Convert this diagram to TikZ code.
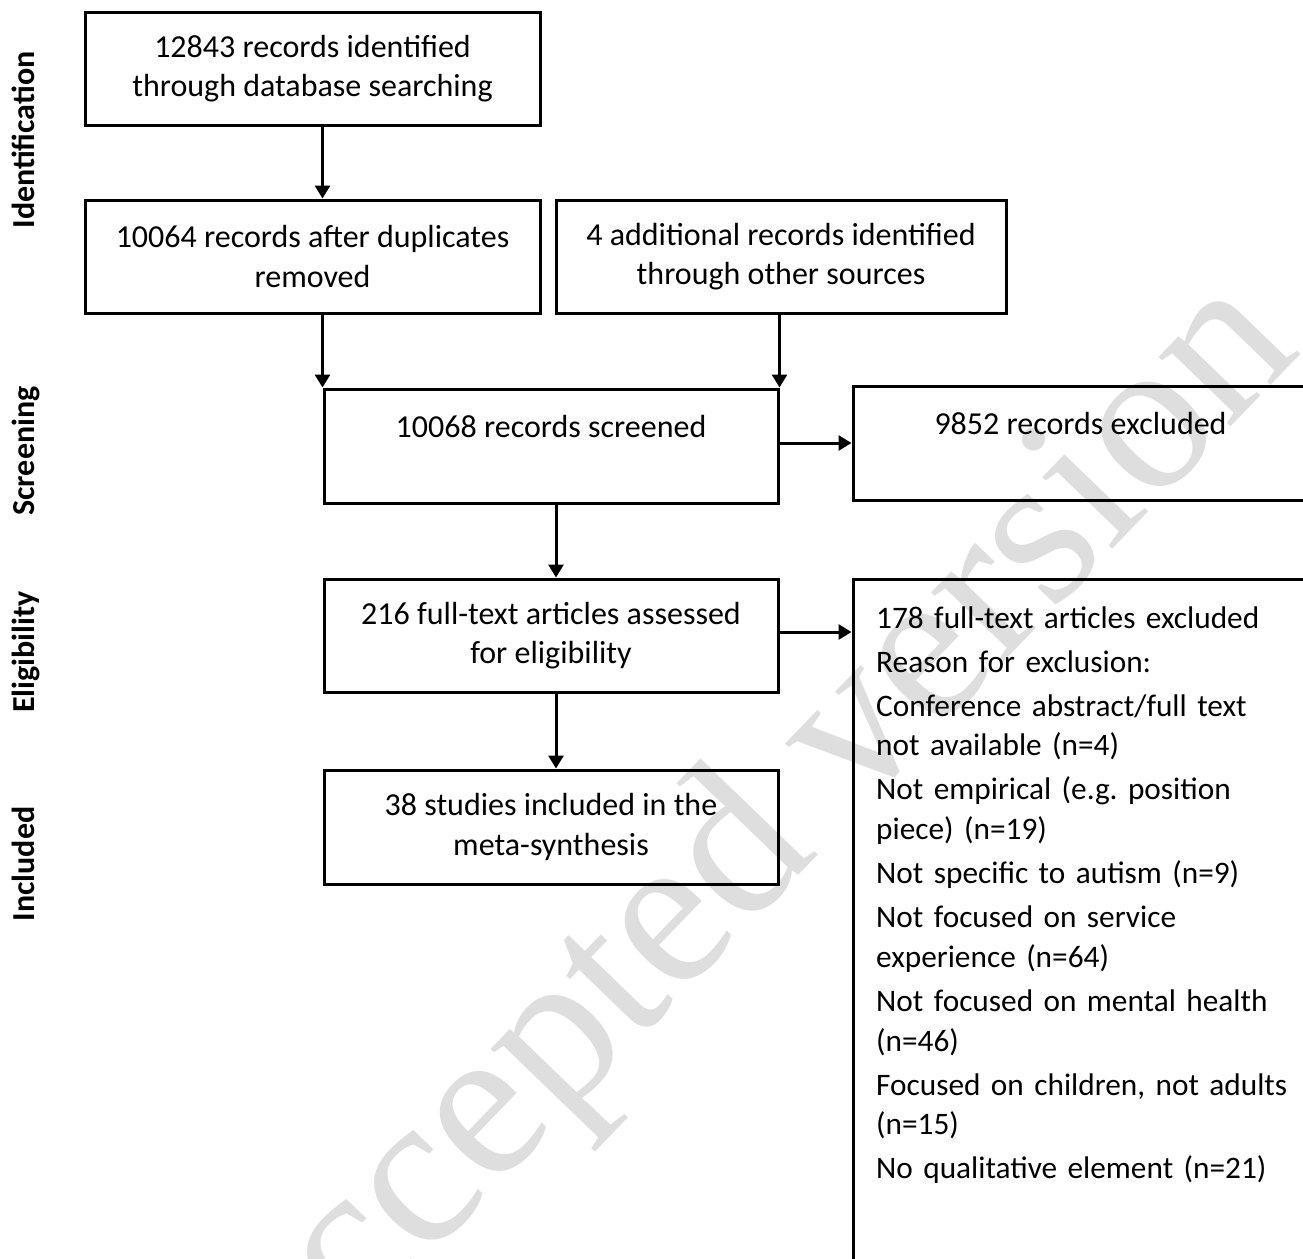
\documentclass[tikz,border=0pt]{standalone}
\usepackage{fontspec}
\setmainfont{Carlito}
\newfontfamily\wmfont{Liberation Serif}
\usetikzlibrary{arrows.meta}
\begin{document}
\begin{tikzpicture}[x=1pt,y=-1pt,
  flowbox/.style={draw, line width=3pt, inner sep=0pt, align=center,
    font=\fontsize{32}{39.3}\selectfont, minimum width=455pt, minimum height=113pt},
  arr/.style={line width=3pt, -{Triangle[width=15pt,length=13pt]}},
  phase/.style={rotate=90, anchor=base, inner sep=0pt, font=\fontsize{32}{38}\selectfont\bfseries},
  wmark/.style={inner sep=0pt, text=black!13, rotate=46, font=\wmfont\fontsize{218}{220}\selectfont}]
\useasboundingbox (0,0) rectangle (1303,1258);
\clip (0,0) rectangle (1303,1258);
% watermark
\node[wmark] (wm) at (738,862) {Accepted version};
% phase labels
\node[phase] (p1) at (34,140) {Identification};
\node[phase] (p2) at (34,451) {Screening};
\node[phase] (p3) at (34,652) {Eligibility};
\node[phase] (p4) at (34,864) {Included};
% boxes
\node[flowbox] (b1) at (312.5,68.5) {12843 records identified\\through database searching};
\node[flowbox] (b2) at (312.5,256.5) {10064 records after duplicates\\removed};
\node[flowbox, minimum width=450pt] (b3) at (781,256.5) {4 additional records identified\\through other sources};
\node[flowbox, minimum width=454pt, minimum height=114pt] (b4) at (551,446) {10068 records screened\\\mbox{}};
\node[flowbox, minimum height=114pt] (b5) at (1080.5,443) {9852 records excluded\\\mbox{}};
\node[flowbox, minimum width=454pt] (b6) at (551,635.5) {216 full-text articles assessed\\for eligibility};
\node[flowbox, minimum width=454pt, minimum height=114pt] (b7) at (551,827) {38 studies included in the\\meta-synthesis};
\node[draw, line width=3pt, inner sep=0pt, minimum width=455pt, minimum height=700pt] (b8) at (1080.5,929) {};
\node[anchor=base west, inner sep=0pt, text width=460pt, align=left,
  font=\fontsize{31.3}{39.6}\selectfont] (b8t) at (876,628) {%
  \frenchspacing\setlength{\parskip}{4.5pt}\setlength{\parindent}{0pt}%
  178 full-text articles excluded\par
  Reason for exclusion:\par
  Conference abstract/full text\\not available (n=4)\par
  Not empirical (e.g. position\\piece) (n=19)\par
  Not specific to autism (n=9)\par
  Not focused on service\\experience (n=64)\par
  Not focused on mental health\\(n=46)\par
  Focused on children, not adults\\(n=15)\par
  No qualitative element (n=21)};
% connectors
\draw[arr] (b1.south -| b4.west) -- (b2.north -| b4.west);
\draw[arr] (b2.south -| b4.west) -- (b4.north west);
\draw[arr] (b3.south -| b4.east) -- (b4.north east);
\draw[arr] (b5.west -| b4.east) -- (b5.west);
\draw[arr] ([xshift=5pt]b4.south) -- ([xshift=5pt]b6.north);
\draw[arr] ([xshift=5pt]b6.south) -- ([xshift=5pt]b7.north);
\draw[arr] ([yshift=3.5pt]b6.east) -- ([yshift=3.5pt]b6.east -| b8.west);
\end{tikzpicture}
\end{document}
